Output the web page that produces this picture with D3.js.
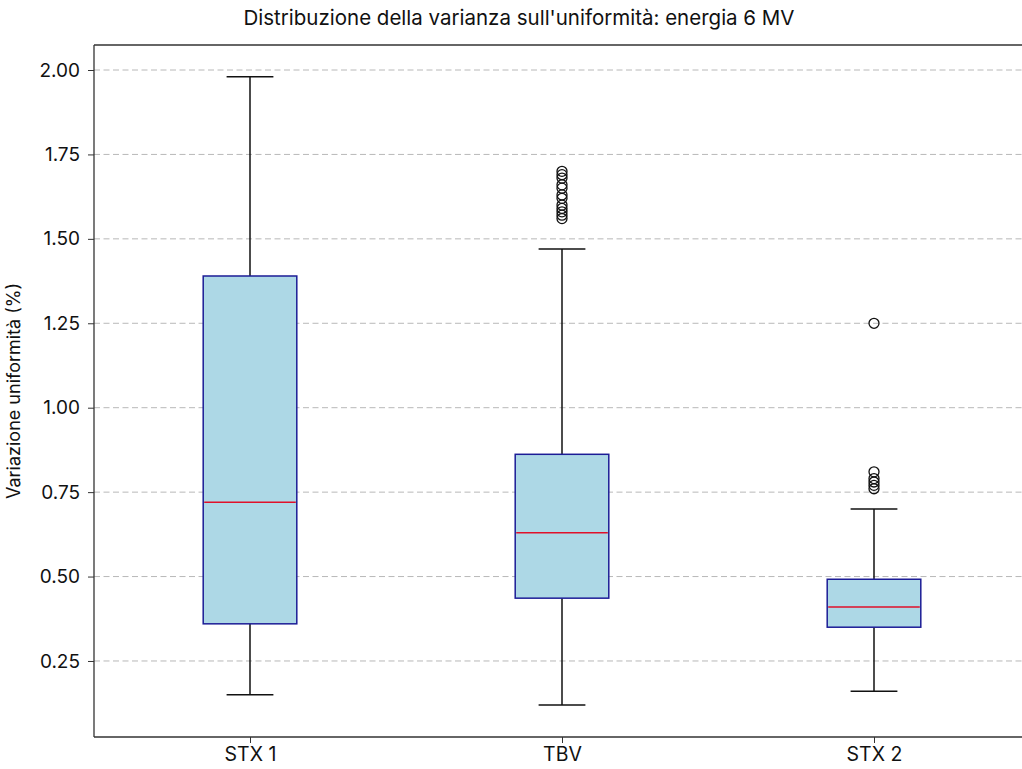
<!DOCTYPE html>
<html><head><meta charset="utf-8">
<script src="https://cdn.jsdelivr.net/npm/d3@7"></script>
<style>
html,body{margin:0;padding:0;background:#fff;overflow:hidden;}
svg{display:block;font-family:Inter,"Noto Sans",sans-serif;}
</style></head>
<body>
<svg id="chart" width="1022" height="769"></svg>
<script>
const categories = ["STX 1", "TBV", "STX 2"];
const whiskerLow  = [0.15, 0.12, 0.16];
const q1          = [0.36, 0.436, 0.35];
const medians     = [0.72, 0.63, 0.41];
const q3          = [1.39, 0.862, 0.492];
const whiskerHigh = [1.98, 1.47, 0.70];
const outliers = [
  [],
  [1.56, 1.57, 1.58, 1.59, 1.60, 1.62, 1.63, 1.65, 1.66, 1.68, 1.69, 1.70],
  [0.76, 0.77, 0.78, 0.79, 0.81, 1.25]
];
const yTicks = [0.25, 0.50, 0.75, 1.00, 1.25, 1.50, 1.75, 2.00];
const title = "Distribuzione della varianza sull'uniformità: energia 6 MV";
const yLabel = "Variazione uniformità (%)";

const svg = d3.select("#chart");
const L = 94, R = 1030, T = 45, B = 737;
const Rvis = 1022; // visible right edge of the window

const y = d3.scaleLinear().domain([2 - 667/337.7, 2 + 25/337.7]).range([B, T]);
const x = d3.scaleLinear().domain([0.5, 3.5]).range([L, R]);
const boxW = x(1.15) - x(0.85);
const capW = boxW / 2;

svg.append("g").selectAll("line").data(yTicks).join("line")
  .attr("x1", L).attr("x2", Rvis)
  .attr("y1", d => y(d)).attr("y2", d => y(d))
  .attr("stroke", "#b8b8b8").attr("stroke-width", 1)
  .attr("stroke-dasharray", "6,3.5");

const data = categories.map((c, i) => ({
  c, i, pos: i + 1, lo: whiskerLow[i], q1: q1[i], med: medians[i], q3: q3[i], hi: whiskerHigh[i], out: outliers[i]
}));

const g = svg.append("g").selectAll("g").data(data).join("g");
g.append("line").attr("x1", d => x(d.pos)).attr("x2", d => x(d.pos))
  .attr("y1", d => y(d.lo)).attr("y2", d => y(d.q1)).attr("stroke", "#111").attr("stroke-width", 1.5);
g.append("line").attr("x1", d => x(d.pos)).attr("x2", d => x(d.pos))
  .attr("y1", d => y(d.q3)).attr("y2", d => y(d.hi)).attr("stroke", "#111").attr("stroke-width", 1.5);
g.append("line").attr("x1", d => x(d.pos) - capW/2).attr("x2", d => x(d.pos) + capW/2)
  .attr("y1", d => y(d.lo)).attr("y2", d => y(d.lo)).attr("stroke", "#111").attr("stroke-width", 1.5);
g.append("line").attr("x1", d => x(d.pos) - capW/2).attr("x2", d => x(d.pos) + capW/2)
  .attr("y1", d => y(d.hi)).attr("y2", d => y(d.hi)).attr("stroke", "#111").attr("stroke-width", 1.5);
g.append("rect").attr("x", d => x(d.pos) - boxW/2).attr("width", boxW)
  .attr("y", d => y(d.q3)).attr("height", d => y(d.q1) - y(d.q3))
  .attr("fill", "#add8e6").attr("stroke", "#1c1c96").attr("stroke-width", 1.5);
g.append("line").attr("x1", d => x(d.pos) - boxW/2 + 1).attr("x2", d => x(d.pos) + boxW/2 - 1)
  .attr("y1", d => y(d.med)).attr("y2", d => y(d.med)).attr("stroke", "#e0102a").attr("stroke-width", 1.5);
g.selectAll("circle").data(d => d.out.map(v => ({pos: d.pos, v}))).join("circle")
  .attr("cx", d => x(d.pos)).attr("cy", d => y(d.v)).attr("r", 5)
  .attr("fill", "none").attr("stroke", "#111").attr("stroke-width", 1.3);

const yAxis = d3.axisLeft(y).tickValues(yTicks).tickFormat(d3.format(".2f")).tickSize(6).tickPadding(8);
const ya = svg.append("g").attr("transform", `translate(${L},0)`).call(yAxis);
ya.select(".domain").remove();
ya.selectAll("text").attr("font-size", 19).attr("fill", "#111").attr("font-family", "Inter,sans-serif");
ya.selectAll("line").attr("stroke", "#333");

const xAxis = d3.axisBottom(x).tickValues([1, 2, 3]).tickFormat(d => categories[d - 1]).tickSize(6).tickPadding(4);
const xa = svg.append("g").attr("transform", `translate(0,${B})`).call(xAxis);
xa.select(".domain").remove();
xa.selectAll("text").attr("font-size", 19.5).attr("fill", "#111").attr("font-family", "Inter,sans-serif");
xa.selectAll("line").attr("stroke", "#333");

const spines = [[L, T, L, B], [L, T, Rvis, T], [L, B, Rvis, B]];
svg.append("g").selectAll("line").data(spines).join("line")
  .attr("x1", d => d[0]).attr("y1", d => d[1]).attr("x2", d => d[2]).attr("y2", d => d[3])
  .attr("stroke", "#333").attr("stroke-width", 1.3);

svg.append("text").attr("x", 519).attr("y", 25).attr("text-anchor", "middle")
  .attr("font-size", 20.5).attr("fill", "#111").text(title);
svg.append("text").attr("transform", `translate(20,${(T + B) / 2}) rotate(-90)`)
  .attr("text-anchor", "middle").attr("font-size", 18).attr("fill", "#111").text(yLabel);
</script>
</body></html>
